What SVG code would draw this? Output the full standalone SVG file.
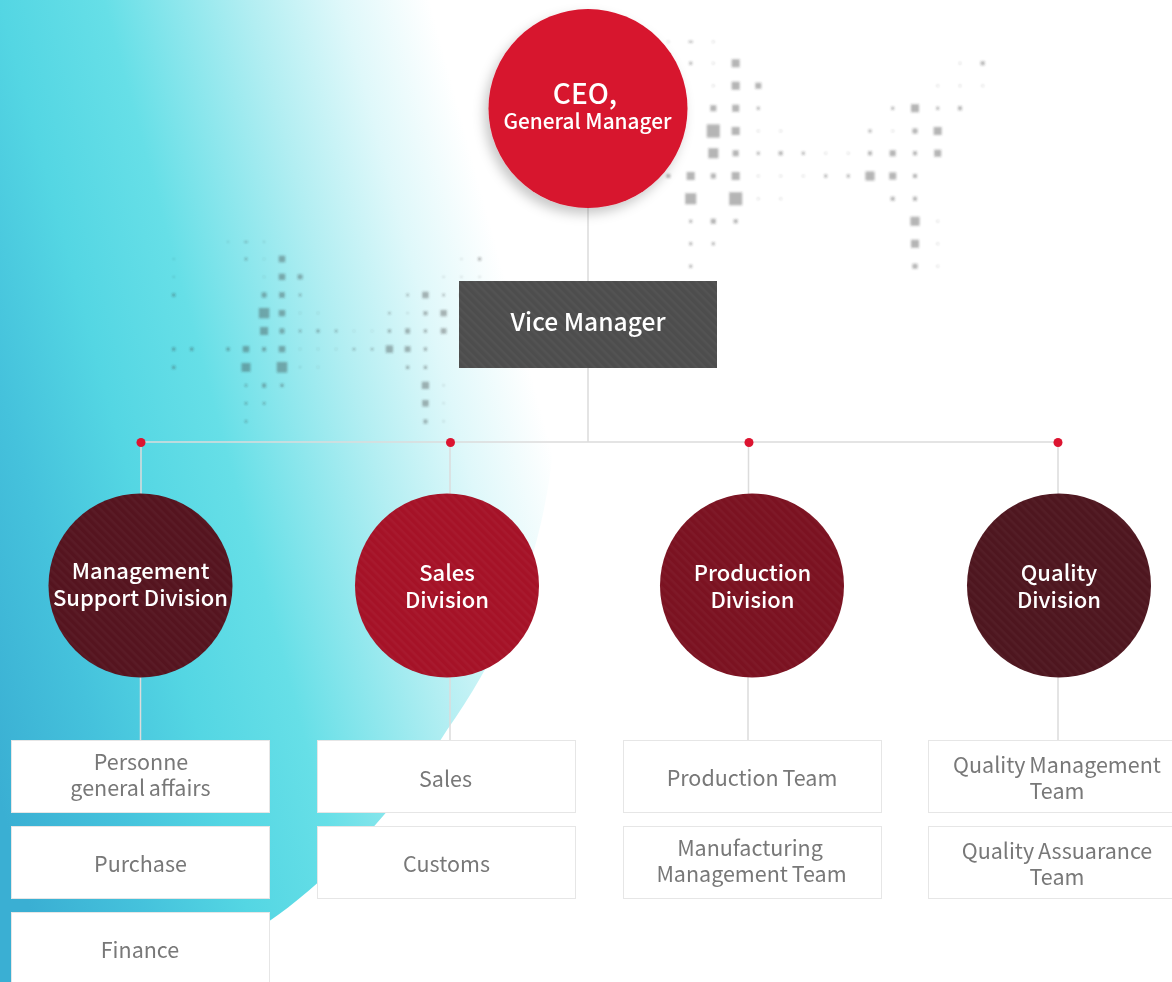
<svg xmlns="http://www.w3.org/2000/svg" xmlns:xlink="http://www.w3.org/1999/xlink" width="1172" height="982" viewBox="0 0 1172 982">
<style>
text{font-family:"Noto Sans CJK KR","Noto Sans",sans-serif;text-anchor:middle}
.w{fill:#fff;font-size:22px;font-weight:500;filter:url(#soft)}
.g{fill:#787878;font-size:21.5px;font-weight:400;word-spacing:-1px;filter:url(#soft)}
.box{fill:#fff;stroke:#e6e6e6;stroke-width:1}
.line{stroke:#dcdcdc;stroke-width:1.5;fill:none}
.dot{fill:#dc1430}
.tex{fill:url(#stripes)}
.d{fill:#333;opacity:.36}
.l{fill:#333;opacity:.2}
</style>
<defs>
<linearGradient id="teal" gradientUnits="userSpaceOnUse" x1="-203" y1="55" x2="400" y2="-109">
<stop offset="0" stop-color="#3aafd3"/>
<stop offset=".176" stop-color="#45c2dc"/>
<stop offset=".336" stop-color="#54d6e3"/>
<stop offset=".496" stop-color="#66dfe7"/>
<stop offset=".72" stop-color="#b2eef2"/>
<stop offset=".864" stop-color="#dff8fa"/>
<stop offset="1" stop-color="#fff"/>
</linearGradient>
<pattern id="stripes" width="6" height="6" patternUnits="userSpaceOnUse" patternTransform="rotate(45)">
<rect width="6" height="2.500" fill="#fff" opacity=".03"/>
</pattern>
<filter id="soft" x="-5%" y="-5%" width="110%" height="110%"><feGaussianBlur stdDeviation=".4"/></filter>
<filter id="blur" x="-5%" y="-5%" width="110%" height="110%"><feGaussianBlur stdDeviation="1"/></filter>
<filter id="shadow" x="-20%" y="-20%" width="140%" height="140%"><feDropShadow dx="-4" dy="6" stdDeviation="6" flood-color="#000" flood-opacity=".22"/></filter>
<g id="map" filter="url(#blur)">
<path class="d" d="M688.7 40.7h4v2h-4zM689.2 61.8h3v3h-3zM731.7 59.3h8v8h-8zM980.7 61.3h4v4h-4zM731.7 81.7h8v8h-8zM755.3 82.7h6v6h-6zM710.3 105.3h6v6h-6zM732.2 104.8h7v7h-7zM756.8 106.8h3v3h-3zM891.2 106.8h3v3h-3zM911 104.3h8v8h-8zM936.2 106.8h3v3h-3zM958 106.3h4v4h-4zM706.8 124.5h13v13h-13zM731.7 127h8v8h-8zM868.5 129.5h3v3h-3zM912.5 128.5h5v5h-5zM933.7 127h8v8h-8zM708.3 148.3h10v10h-10zM732.7 150.3h6v6h-6zM756.8 151.8h3v3h-3zM778.7 151.3h4v4h-4zM801.8 151.8h3v3h-3zM868 151.3h4v4h-4zM889.7 150.3h6v6h-6zM913 151.3h4v4h-4zM934.2 149.8h7v7h-7zM666.3 174h4v4h-4zM686.7 172h8v8h-8zM710.8 173.5h5v5h-5zM731.7 172h8v8h-8zM824.2 174.5h3v3h-3zM846.8 174.5h3v3h-3zM865.5 171.5h9v9h-9zM889.2 172.5h7v7h-7zM913 174h4v4h-4zM685.2 193.2h11v11h-11zM729.2 192.2h13v13h-13zM890.7 196.7h4v4h-4zM913 196.7h4v4h-4zM689.2 219.8h3v3h-3zM710.8 218.8h5v5h-5zM733.7 219.3h4v4h-4zM910.5 216.8h9v9h-9zM689.2 242.2h3v3h-3zM711.8 242.2h3v3h-3zM911 239.7h8v8h-8zM689.2 264.8h3v3h-3zM912.5 263.8h5v5h-5zM598.3 106.3h4v4h-4zM598.3 174h4v4h-4zM620.8 174h4v4h-4zM598.3 196.7h4v4h-4z"/>
<path class="l" d="M712.3 40.7h2v2h-2zM667.3 40.7h2v2h-2zM712.3 62.3h2v2h-2zM959 62.3h2v2h-2zM712.3 84.7h2v2h-2zM936.7 84.7h2v2h-2zM959 84.7h2v2h-2zM981.7 84.7h2v2h-2zM757.3 130h2v2h-2zM779.7 130h2v2h-2zM891.7 130h2v2h-2zM824.7 152.3h2v2h-2zM847.3 152.3h2v2h-2zM757.3 175h2v2h-2zM779.7 175h2v2h-2zM802.3 175h2v2h-2zM757.3 197.7h2v2h-2zM779.7 197.7h2v2h-2zM936.7 220.3h2v2h-2zM936.7 242.7h2v2h-2zM936.7 265.3h2v2h-2zM599.3 62.3h2v2h-2zM599.3 84.7h2v2h-2z"/>
</g>
</defs>
<rect width="1172" height="982" fill="#fff"/>
<path id="backdrop" fill="url(#teal)" d="M0 0H430C520 130 570 300 555 430C545 560 500 655 447 730C400 805 330 880 268 922V982H0Z"/>
<use href="#map" xlink:href="#map"/>
<use href="#map" xlink:href="#map" transform="translate(-306.56 208.34) scale(.8)"/>
<g id="connectors">
<path class="line" d="M588 200V442M141 442H1058M141 442V500M450 442V500M748.500 442V500M1058 442V500M140.500 670V741M450 670V741M748 670V741M1058 670V741"/>
<circle class="dot" cx="141" cy="442.500" r="4.500"/>
<circle class="dot" cx="450.500" cy="442.500" r="4.500"/>
<circle class="dot" cx="749" cy="442.500" r="4.500"/>
<circle class="dot" cx="1058" cy="442.500" r="4.500"/>
</g>
<g id="ceo">
<circle cx="588" cy="108.500" r="99.500" fill="#d7142e" filter="url(#shadow)"/>
<text class="w" x="585" y="104" style="font-size:28px">CEO,</text>
<text class="w" x="587.500" y="129" style="font-size:20.800px">General Manager</text>
</g>
<g id="vice-manager">
<rect x="459" y="281" width="258" height="87" fill="#4d4d4d"/>
<rect class="tex" x="459" y="281" width="258" height="87"/>
<text class="w" x="588" y="331" style="font-size:24.600px">Vice Manager</text>
</g>
<g id="management-support-division">
<circle cx="140.500" cy="585.500" r="92" fill="#55141f"/>
<circle class="tex" cx="140.500" cy="585.500" r="92"/>
<text class="w" x="140.500" y="579">Management</text>
<text class="w" x="140.500" y="606">Support Division</text>
</g>
<g id="sales-division">
<circle cx="447" cy="585.500" r="92" fill="#a51227"/>
<circle class="tex" cx="447" cy="585.500" r="92"/>
<text class="w" x="447" y="581">Sales</text>
<text class="w" x="447" y="608">Division</text>
</g>
<g id="production-division">
<circle cx="752" cy="585.500" r="92" fill="#7b1221"/>
<circle class="tex" cx="752" cy="585.500" r="92"/>
<text class="w" x="752.500" y="581">Production</text>
<text class="w" x="752.500" y="608">Division</text>
</g>
<g id="quality-division">
<circle cx="1059" cy="585.500" r="92" fill="#4e161f"/>
<circle class="tex" cx="1059" cy="585.500" r="92"/>
<text class="w" x="1059" y="581">Quality</text>
<text class="w" x="1059" y="608">Division</text>
</g>
<g id="personnel">
<rect class="box" x="11.500" y="740.500" width="258" height="72"/>
<text class="g" x="141" y="770">Personne</text>
<text class="g" x="140.500" y="796">general affairs</text>
</g>
<g id="purchase">
<rect class="box" x="11.500" y="826.500" width="258" height="72"/>
<text class="g" x="140.500" y="872">Purchase</text>
</g>
<g id="finance">
<rect class="box" x="11.500" y="912.500" width="258" height="80"/>
<text class="g" x="140" y="958">Finance</text>
</g>
<g id="sales">
<rect class="box" x="317.500" y="740.500" width="258" height="72"/>
<text class="g" x="445.500" y="787">Sales</text>
</g>
<g id="customs">
<rect class="box" x="317.500" y="826.500" width="258" height="72"/>
<text class="g" x="446.500" y="872">Customs</text>
</g>
<g id="production-team">
<rect class="box" x="623.500" y="740.500" width="258" height="72"/>
<text class="g" x="752" y="786">Production Team</text>
</g>
<g id="manufacturing-management-team">
<rect class="box" x="623.500" y="826.500" width="258" height="72"/>
<text class="g" x="750" y="856">Manufacturing</text>
<text class="g" x="751.500" y="882">Management Team</text>
</g>
<g id="quality-management-team">
<rect class="box" x="928.500" y="740.500" width="258" height="72"/>
<text class="g" x="1057" y="773">Quality Management</text>
<text class="g" x="1057" y="799">Team</text>
</g>
<g id="quality-assurance-team">
<rect class="box" x="928.500" y="826.500" width="258" height="72"/>
<text class="g" x="1057" y="859">Quality Assuarance</text>
<text class="g" x="1057" y="885">Team</text>
</g>
</svg>
